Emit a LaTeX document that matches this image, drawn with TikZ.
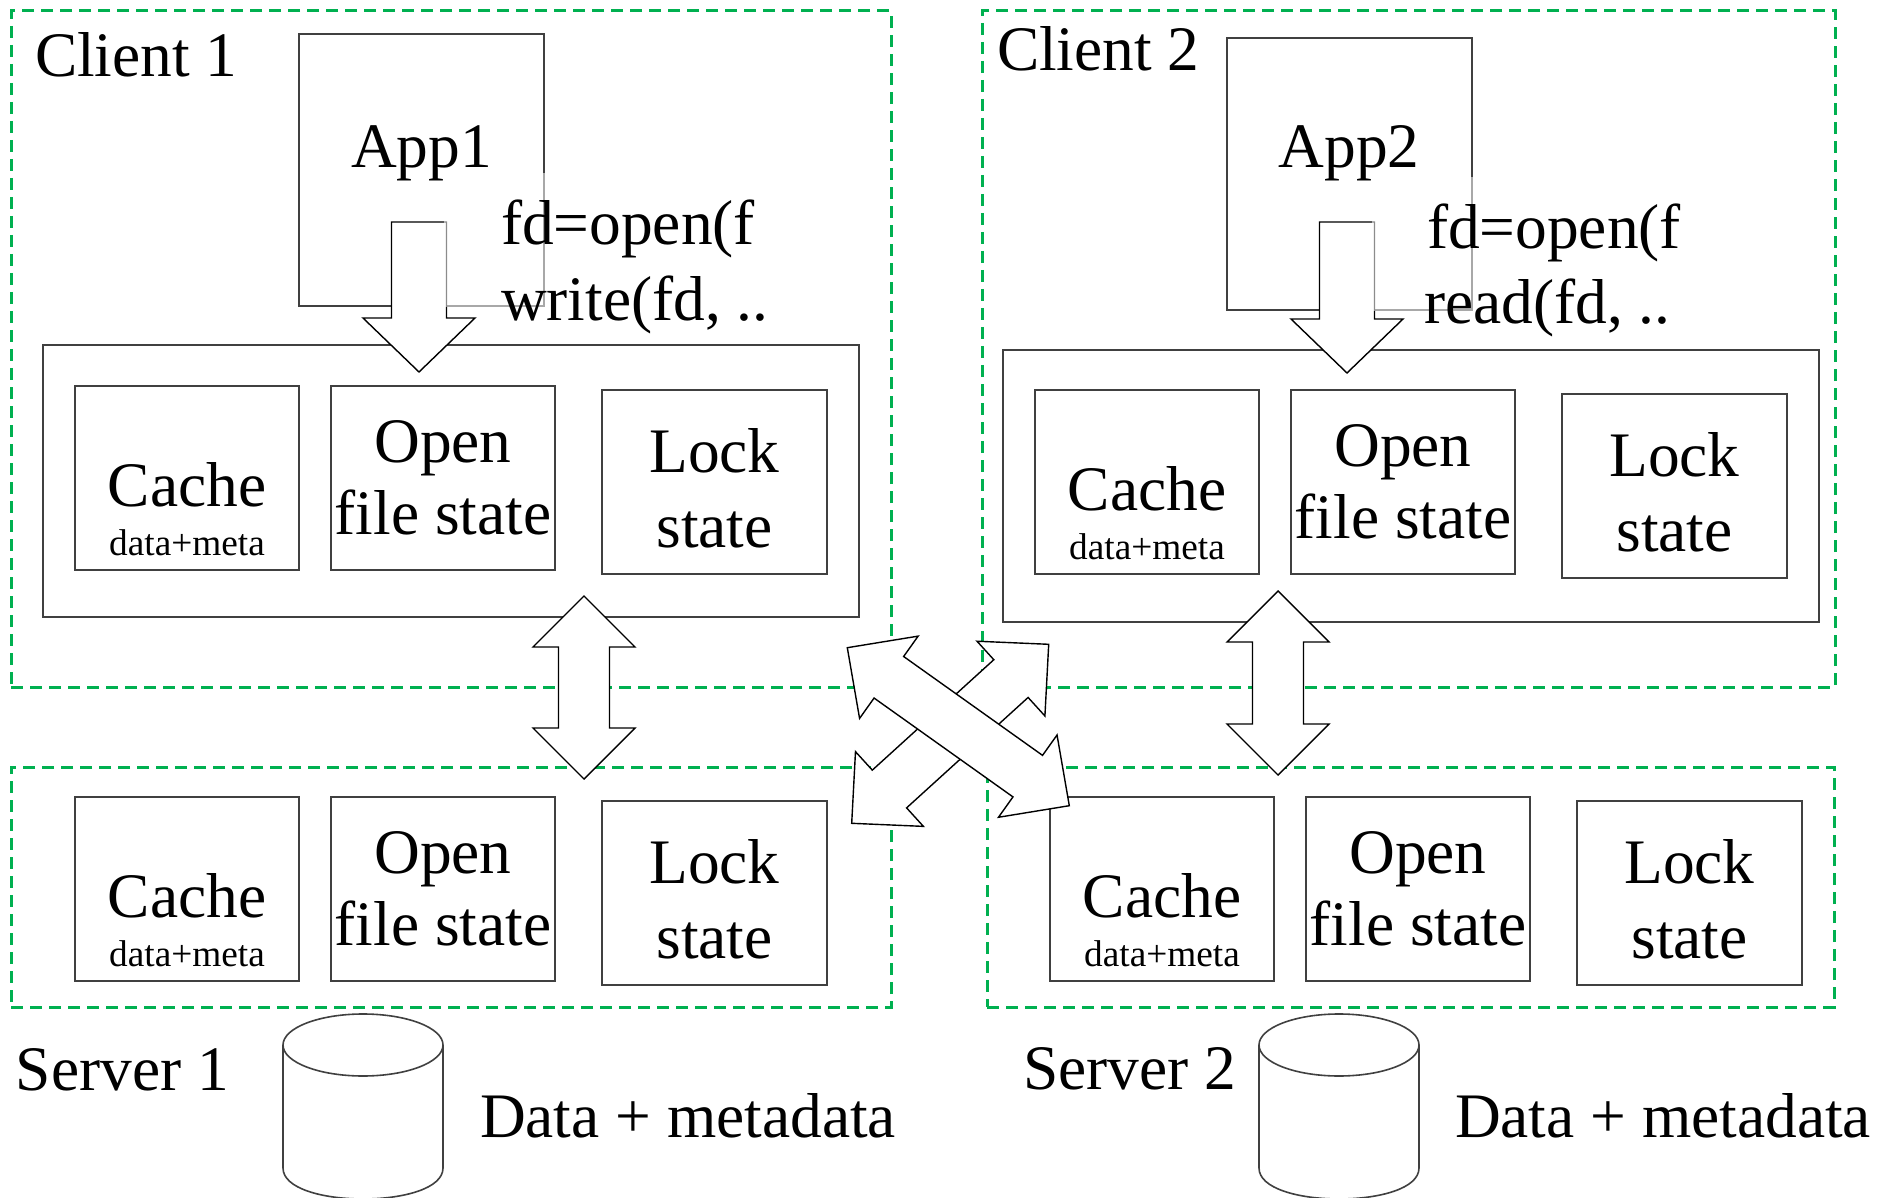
\documentclass[tikz,border=0pt]{standalone}
\usepackage{fontspec}
\setmainfont{Liberation Serif}
\usetikzlibrary{calc}

\definecolor{grpgreen}{HTML}{00B050}
\definecolor{boxgray}{HTML}{404040}

\tikzset{
  grpbox/.style={draw=grpgreen, line width=3pt, dash pattern=on 12pt off 7pt,
    anchor=north west, inner sep=0pt, outer sep=0pt},
  panel/.style={draw=boxgray, line width=2pt, anchor=north west, inner sep=0pt, outer sep=0pt},
  statebox/.style={panel, minimum width=224pt, minimum height=184pt},
  blockarrow/.style={draw=black, line width=1.4pt, fill=white, line join=miter},
  cyl/.style={draw=boxgray, line width=1.6pt},
  bigtext/.style={font=\fontsize{63.4}{76}\selectfont, inner sep=0pt, outer sep=0pt},
  subtext/.style={font=\fontsize{37.3}{44}\selectfont, inner sep=0pt, outer sep=0pt},
}

% double-headed block arrow between two tips
% #1 prefix, #2 tip, #3 tip, #4 head length, #5 half head width, #6 half shaft width
\newcommand\blockdbl[6]{%
  \coordinate (#1-ba) at ($(#2)!#4!(#3)$);
  \coordinate (#1-bb) at ($(#3)!#4!(#2)$);
  \draw[blockarrow] (#2)
    -- ($(#1-ba)!#5!90:(#3)$) -- ($(#1-ba)!#6!90:(#3)$)
    -- ($(#1-bb)!#6!-90:(#2)$) -- ($(#1-bb)!#5!-90:(#2)$)
    -- (#3)
    -- ($(#1-bb)!#5!90:(#2)$) -- ($(#1-bb)!#6!90:(#2)$)
    -- ($(#1-ba)!#6!-90:(#3)$) -- ($(#1-ba)!#5!-90:(#3)$)
    -- cycle;
}

% single-headed block arrow from tail to tip
\newcommand\blocksgl[6]{%
  \coordinate (#1-b) at ($(#3)!#4!(#2)$);
  \draw[blockarrow] ($(#2)!#6!90:(#3)$)
    -- ($(#1-b)!#6!-90:(#2)$) -- ($(#1-b)!#5!-90:(#2)$)
    -- (#3)
    -- ($(#1-b)!#5!90:(#2)$) -- ($(#1-b)!#6!90:(#2)$)
    -- ($(#2)!#6!-90:(#3)$) -- cycle;
}

% the three state boxes of one machine
% #1 prefix, #2 x, #3 y of the cache box corner
\newcommand\statetrio[3]{%
  \node[statebox] (#1cache) at (#2,#3) {};
  \node[statebox] (#1open) at ($(#2,#3)+(256,0)$) {};
  \node[statebox, minimum width=225pt] (#1lock) at ($(#2,#3)+(527,4)$) {};
  \node[bigtext, anchor=base] (#1cachet) at ($(#1cache.north)+(0,120)$) {Cache};
  \node[subtext, anchor=base] (#1caches) at ($(#1cache.north)+(0,169)$) {data+meta};
  \node[bigtext, anchor=base] (#1opent) at ($(#1open.north)+(0,76)$) {Open};
  \node[bigtext, anchor=base] (#1opens) at ($(#1open.north)+(0,148)$) {file state};
  \node[bigtext, anchor=base] (#1lockt) at ($(#1lock.north)+(0,82)$) {Lock};
  \node[bigtext, anchor=base] (#1locks) at ($(#1lock.north)+(0,157)$) {state};
}

\begin{document}
\begin{tikzpicture}[x=1pt, y=-1pt]
\useasboundingbox (0,0) rectangle (1880,1198);

% machine outlines
\node[grpbox, minimum width=880pt, minimum height=676pt] (client1) at (11,11) {};
\node[grpbox, minimum width=853pt, minimum height=676pt] (client2) at (982,11) {};
\node[grpbox, minimum width=880pt, minimum height=240pt] (server1) at (11,767) {};
\node[grpbox, minimum width=847pt, minimum height=240pt] (server2) at (987,767) {};

% client-side panels
\node[panel, minimum width=816pt, minimum height=272pt] (c1panel) at (43,345) {};
\node[panel, minimum width=816pt, minimum height=272pt] (c2panel) at (1003,350) {};

\statetrio{cA}{75}{386}
\statetrio{cB}{1035}{390}
\statetrio{sA}{75}{797}
\statetrio{sB}{1050}{797}

% applications
\node[panel, minimum width=245pt, minimum height=272pt] (app1) at (299,34) {};
\node[panel, minimum width=245pt, minimum height=272pt] (app2) at (1227,38) {};

% system calls from the applications
\coordinate (a1tail) at (419,222);
\coordinate (a1tip) at (419,372);
\coordinate (a2tail) at (1347,222);
\coordinate (a2tip) at (1347,373);
\blocksgl{a1}{a1tail}{a1tip}{54pt}{56pt}{27.5pt}
\blocksgl{a2}{a2tail}{a2tip}{54pt}{56pt}{27.5pt}

% client <-> server links
\coordinate (v1top) at (584,596);
\coordinate (v1bot) at (584,779);
\coordinate (v2top) at (1278,591);
\coordinate (v2bot) at (1278,775);
\blockdbl{v1}{v1top}{v1bot}{51pt}{51pt}{25.5pt}
\blockdbl{v2}{v2top}{v2bot}{51pt}{51pt}{25.5pt}

\coordinate (xb1) at (851.7,823.3);
\coordinate (xb2) at (1048.7,644.3);
\coordinate (xa1) at (847.3,647.7);
\coordinate (xa2) at (1069.3,805.7);
\blockdbl{xb}{xb1}{xb2}{51pt}{50.5pt}{25.5pt}
\blockdbl{xa}{xa1}{xa2}{51pt}{50.5pt}{25.5pt}

% storage
\draw[cyl, fill=white] (283,1045) -- (283,1168) .. controls (283,1209.3) and (443,1209.3) .. (443,1168) -- (443,1045);
\draw[cyl] (363,1045) ellipse [x radius=80pt, y radius=31pt];
\draw[cyl, fill=white] (1259,1045) -- (1259,1168) .. controls (1259,1209.3) and (1419,1209.3) .. (1419,1168) -- (1419,1045);
\draw[cyl] (1339,1045) ellipse [x radius=80pt, y radius=31pt];

% text boxes of the calls, partly covering the lines below
\fill[white, fill opacity=0.55] (444,173) rectangle (772,307);
\fill[white, fill opacity=0.55] (1372,177) rectangle (1700,311);

% labels
\node[bigtext, anchor=base west] (lc1) at (35,77) {Client 1};
\node[bigtext, anchor=base west] (lc2) at (997,71) {Client 2};
\node[bigtext, anchor=base west] (ls1) at (16,1090) {Server 1};
\node[bigtext, anchor=base west] (ls2) at (1023,1089) {Server 2};
\node[bigtext, anchor=base west] (ld1) at (480,1137) {Data + metadata};
\node[bigtext, anchor=base west] (ld2) at (1455,1137) {Data + metadata};

\node[bigtext, anchor=base] (app1t) at (421.5,168) {App1};
\node[bigtext, anchor=base] (app2t) at (1349,168) {App2};

\node[bigtext, anchor=base west] (call1a) at (501,245) {fd=open(f};
\node[bigtext, anchor=base west] (call1b) at (501,321) {write(fd, ..};
\node[bigtext, anchor=base west] (call2a) at (1427,249) {fd=open(f};
\node[bigtext, anchor=base west] (call2b) at (1424,324) {read(fd, ..};
\end{tikzpicture}
\end{document}
